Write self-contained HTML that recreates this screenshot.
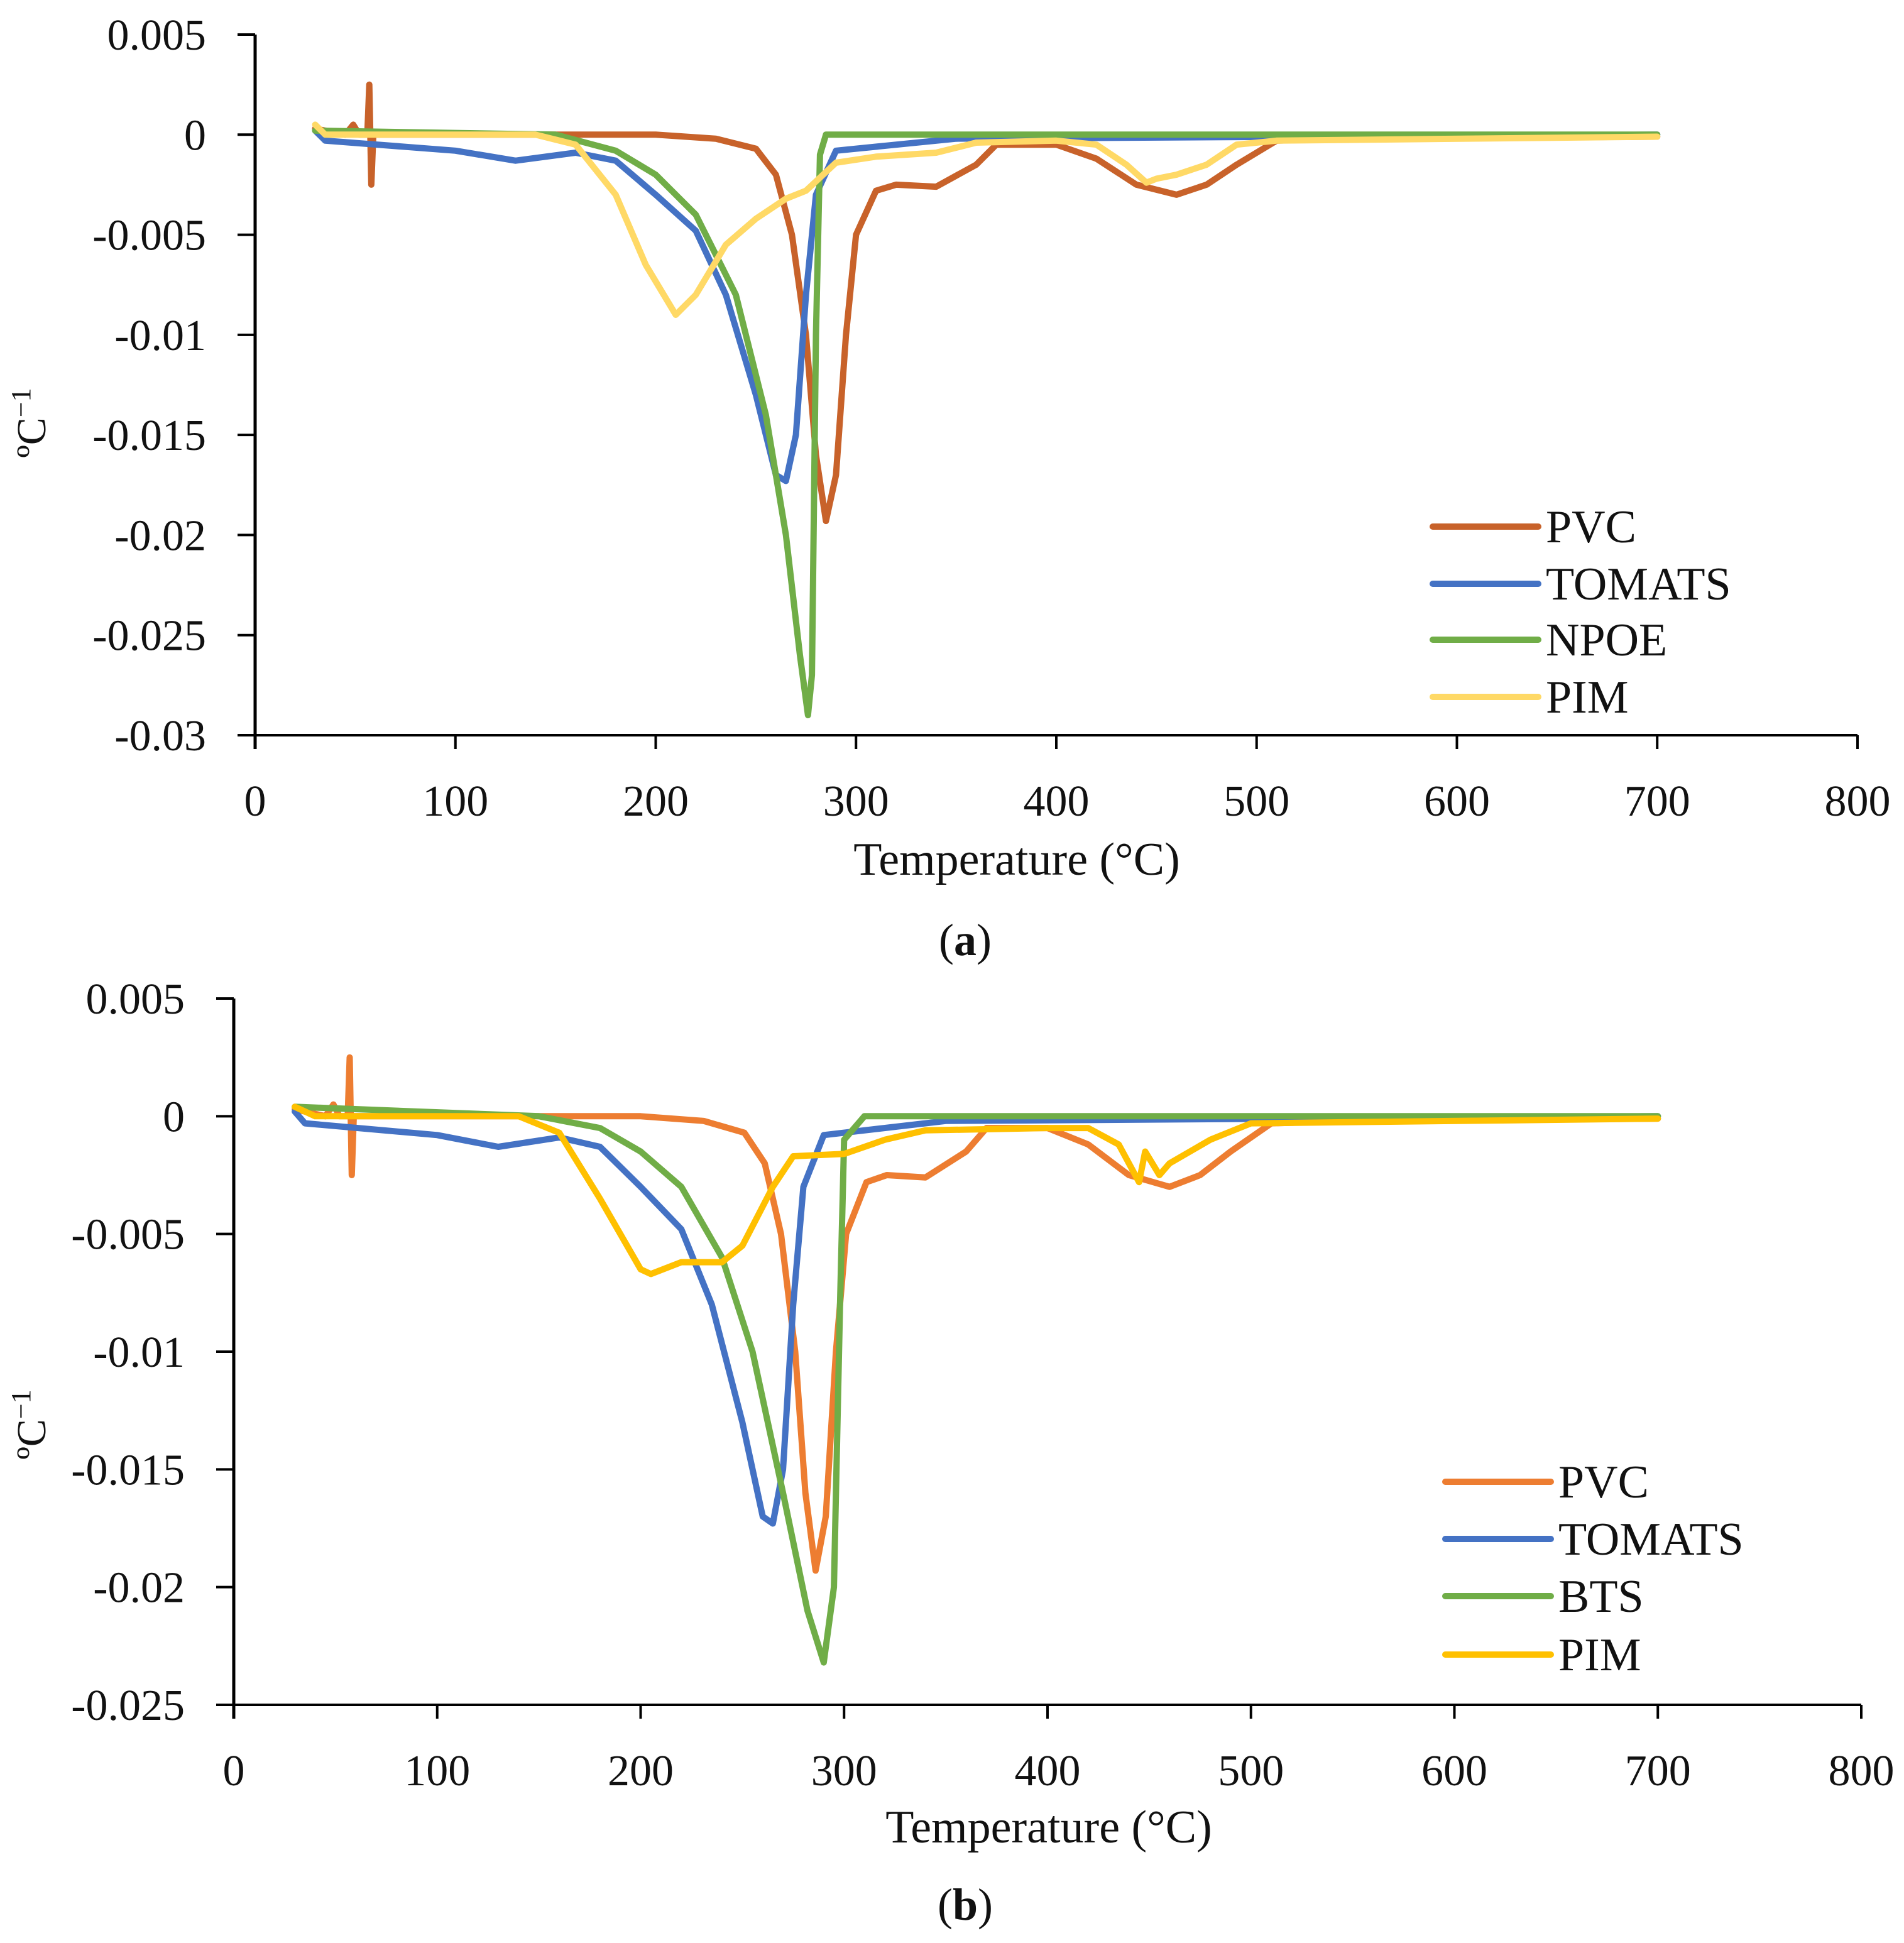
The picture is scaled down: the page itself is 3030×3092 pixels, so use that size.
<!DOCTYPE html>
<html><head><meta charset="utf-8"><style>
html,body{margin:0;padding:0;background:#fff}
svg{display:block}
text{font-family:"Liberation Serif",serif;fill:#111}
</style></head><body>
<svg id="svg" width="3030" height="3092" viewBox="0 0 3030 3092"></svg>
<script>
const xTicks=[0,100,200,300,400,500,600,700,800];
const yTicksA=[0.005,0,-0.005,-0.01,-0.015,-0.02,-0.025,-0.03];
const yTicksB=[0.005,0,-0.005,-0.01,-0.015,-0.02,-0.025];
const namesA=["PVC","TOMATS","NPOE","PIM"];
const namesB=["PVC","TOMATS","BTS","PIM"];
const pvcT=[30,45,49,52,56,57,58,59,100,200,230,250,260,268,275,280,285,290,295,300,310,320,340,360,370,400,420,440,460,475,490,510,550,700];
const pvcV=[0.0003,0,0.0005,0,0,0.0025,-0.0025,0,0,0,-0.0002,-0.0007,-0.002,-0.005,-0.01,-0.016,-0.0193,-0.017,-0.01,-0.005,-0.0028,-0.0025,-0.0026,-0.0015,-0.0005,-0.0005,-0.0012,-0.0025,-0.003,-0.0025,-0.0015,-0.0003,-0.0002,-0.0001];
const tomT=[30,35,100,130,160,180,200,220,235,250,260,265,270,275,280,290,350,700];
const tomV=[0.0002,-0.0003,-0.0008,-0.0013,-0.0009,-0.0013,-0.003,-0.0048,-0.008,-0.013,-0.017,-0.0173,-0.015,-0.008,-0.003,-0.0008,-0.0002,0];
const npoeT=[30,150,180,200,220,240,255,265,272,276,278,280,282,285,700];
const npoeV=[0.0002,0,-0.0008,-0.002,-0.004,-0.008,-0.014,-0.02,-0.026,-0.029,-0.027,-0.01,-0.001,0,0];
const pimAT=[30,35,140,160,180,195,210,220,235,250,265,275,290,310,340,360,400,420,435,445,450,460,475,490,510,700];
const pimAV=[0.0005,0,0,-0.0005,-0.003,-0.0065,-0.009,-0.008,-0.0055,-0.0042,-0.0032,-0.0028,-0.0014,-0.0011,-0.0009,-0.0004,-0.0003,-0.0005,-0.0015,-0.0024,-0.0022,-0.002,-0.0015,-0.0005,-0.0003,-0.0001];
const btsT=[30,150,180,200,220,240,255,270,282,290,295,298,300,310,700];
const btsV=[0.0004,0,-0.0005,-0.0015,-0.003,-0.006,-0.01,-0.016,-0.021,-0.0232,-0.02,-0.008,-0.001,0,0];
const pimBT=[30,40,140,160,180,200,205,220,240,250,265,275,300,320,340,400,420,435,445,448,455,460,480,500,700];
const pimBV=[0.0004,0,0,-0.0007,-0.0035,-0.0065,-0.0067,-0.0062,-0.0062,-0.0055,-0.003,-0.0017,-0.0016,-0.001,-0.0006,-0.0005,-0.0005,-0.0012,-0.0028,-0.0015,-0.0025,-0.002,-0.001,-0.0003,-0.0001];
const pvcBT=pvcT.map(t=>t>200&&t<330?t+1:t);

const NS="http://www.w3.org/2000/svg";
const svg=document.getElementById('svg');
function el(tag,attrs,parent){const e=document.createElementNS(NS,tag);for(const k in attrs)e.setAttribute(k,attrs[k]);(parent||svg).appendChild(e);return e;}

function chart(cfg){
  const g=el('g',{});
  
  
  const X=t=>cfg.x0+(t-0)/800*(cfg.x1-cfg.x0);
  const Y=v=>cfg.yTop+(cfg.ymax-v)/(cfg.ymax-cfg.ymin)*(cfg.yBot-cfg.yTop);
  cfg.series.forEach((s,i)=>{
    const d=s.t.map((t,j)=>(j?'L':'M')+X(t).toFixed(1)+','+Y(s.v[j]).toFixed(1)).join(' ');
    const p=el('path',{d:d,fill:'none',stroke:s.c,'stroke-width':10,'stroke-linejoin':'round','stroke-linecap':'round'},g);
    
    
    const ly=cfg.legY[i];
    const ll=el('line',{x1:cfg.legX,x2:cfg.legX+168,y1:ly,y2:ly,stroke:s.c,'stroke-width':10,'stroke-linecap':'round'},g);
    
    
    const lt=el('text',{x:cfg.legX+180,y:ly+25,'font-size':74},g);
    lt.textContent=s.n;
    
    
  });
  const ya=el('line',{x1:cfg.x0,x2:cfg.x0,y1:cfg.yTop,y2:cfg.yBot+22,stroke:'#000','stroke-width':5},g);
  
  
  const xa=el('line',{x1:cfg.x0-28,x2:cfg.x1,y1:cfg.yBot,y2:cfg.yBot,stroke:'#000','stroke-width':4},g);
  
  
  cfg.yTicks.forEach(v=>{
    const y=Y(v);
    el('line',{x1:cfg.x0-28,x2:cfg.x0,y1:y,y2:y,stroke:'#000','stroke-width':4},g);
    const t=el('text',{x:cfg.x0-78,y:y+24,'font-size':70,'text-anchor':'end'},g);
    t.textContent=String(v);
    
    
  });
  xTicks.forEach(v=>{
    const x=X(v);
    el('line',{x1:x,x2:x,y1:cfg.yBot,y2:cfg.yBot+22,stroke:'#000','stroke-width':4},g);
    const t=el('text',{x:x,y:cfg.yBot+128,'font-size':70,'text-anchor':'middle'},g);
    t.textContent=String(v);
    
    
  });
  const xt=el('text',{x:cfg.xtX,y:cfg.xtY,'font-size':74,'text-anchor':'middle'},g);
  xt.textContent='Temperature (°C)';
  
  
  const yt=el('text',{x:0,y:0,'font-size':66,'text-anchor':'middle',transform:`translate(${cfg.ytX},${cfg.ytY}) rotate(-90)`},g);
  yt.innerHTML='ºC<tspan dy="-24" font-size="44">−1</tspan>';
  
  
  const cap=el('text',{x:1536,y:cfg.capY,'font-size':72,'text-anchor':'middle'},g);
  cap.innerHTML='(<tspan font-weight="bold">'+cfg.cap+'</tspan>)';
  
  
}
chart({name:'chart-a',x0:406,x1:2956,yTop:55,yBot:1170,ymax:0.005,ymin:-0.03,yTicks:yTicksA,
  legX:2280,legY:[838,929,1018,1109],xtX:1618,xtY:1392,ytX:72,ytY:673,cap:'a',capY:1520,
  series:[{n:namesA[0],t:pvcT,v:pvcV,c:'#C8622A'},{n:namesA[1],t:tomT,v:tomV,c:'#4472C4'},{n:namesA[2],t:npoeT,v:npoeV,c:'#70AD47'},{n:namesA[3],t:pimAT,v:pimAV,c:'#FFD966'}]});
chart({name:'chart-b',x0:372,x1:2962,yTop:1589,yBot:2713,ymax:0.005,ymin:-0.025,yTicks:yTicksB,
  legX:2300,legY:[2358,2449,2540,2633],xtX:1669,xtY:2932,ytX:72,ytY:2267,cap:'b',capY:3055,
  series:[{n:namesB[0],t:pvcBT,v:pvcV,c:'#ED7D31'},{n:namesB[1],t:tomT,v:tomV,c:'#4472C4'},{n:namesB[2],t:btsT,v:btsV,c:'#70AD47'},{n:namesB[3],t:pimBT,v:pimBV,c:'#FFC000'}]});
</script>
</body></html>
